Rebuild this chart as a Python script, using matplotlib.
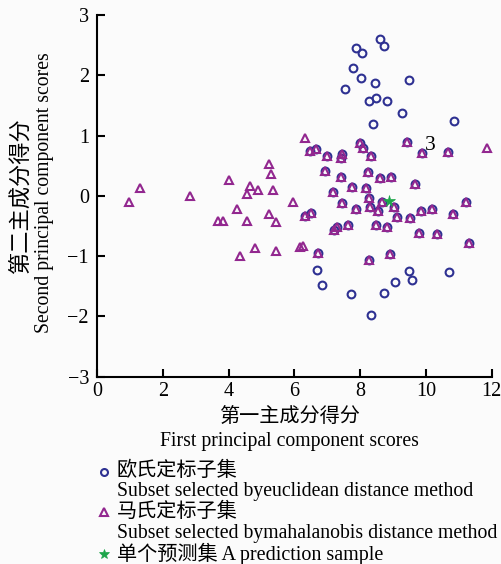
import numpy as np
import matplotlib
matplotlib.use("Agg")
import matplotlib.pyplot as plt
from matplotlib.lines import Line2D

# ---- data ----
# samples selected by both methods
shared_x = [6.47, 6.66, 6.99, 7.44, 7.42, 7.98, 8.08, 8.34, 9.42, 9.88, 10.67,
            6.93, 7.40, 8.25, 8.60, 8.94, 9.67, 7.76, 8.19, 7.18,
            6.31, 6.50, 7.46, 7.87, 8.26, 8.31, 8.53, 8.66, 9.04, 9.12, 9.51, 9.85, 10.18, 10.83, 11.23,
            7.21, 7.28, 7.64, 8.48, 8.80, 9.79, 10.33, 11.31,
            6.70, 8.27, 8.91]
shared_y = [0.75, 0.77, 0.655, 0.69, 0.63, 0.87, 0.79, 0.655, 0.90, 0.71, 0.73,
            0.41, 0.31, 0.40, 0.30, 0.32, 0.20, 0.14, 0.135, 0.07,
            -0.33, -0.28, -0.12, -0.21, -0.04, -0.185, -0.25, -0.11, -0.19, -0.35, -0.36, -0.25, -0.22, -0.30, -0.11,
            -0.56, -0.51, -0.48, -0.49, -0.52, -0.61, -0.64, -0.78,
            -0.94, -1.07, -0.96]
# samples selected only by euclidean distance
euclid_only_x = [8.61, 8.71, 7.88, 8.06, 7.78, 8.02, 8.46, 9.47, 7.55, 8.27, 8.49, 8.82,
                 9.28, 8.38, 10.85, 6.68, 6.84, 7.71, 8.32, 8.73, 9.07, 9.49, 9.58, 10.69]
euclid_only_y = [2.60, 2.48, 2.45, 2.37, 2.12, 1.95, 1.88, 1.92, 1.77, 1.57, 1.63, 1.57,
                 1.38, 1.19, 1.24, -1.23, -1.48, -1.62, -1.98, -1.61, -1.43, -1.25, -1.39, -1.27]
# samples selected only by mahalanobis distance
mahal_only_x = [6.31, 11.86, 5.23, 5.27, 4.00, 1.31, 0.965, 2.82, 4.66, 4.88, 4.54, 5.36,
                4.24, 5.21, 4.56, 5.43, 3.67, 3.83, 5.96, 4.81, 4.35, 5.44, 6.17, 6.25]
mahal_only_y = [0.965, 0.80, 0.53, 0.36, 0.27, 0.135, -0.096, 0.0, 0.16, 0.10, 0.025, 0.10,
                -0.21, -0.30, -0.41, -0.43, -0.41, -0.41, -0.11, -0.86, -1.00, -0.915, -0.85, -0.84]

euclid_x = euclid_only_x + shared_x
euclid_y = euclid_only_y + shared_y
mahal_x = shared_x + mahal_only_x
mahal_y = shared_y + mahal_only_y

pred_x = [8.88]
pred_y = [-0.08]

note_text = "3"
note_x, note_y = 10.14, 0.84

x_ticks = [0, 2, 4, 6, 8, 10, 12]
y_ticks = [-3, -2, -1, 0, 1, 2, 3]

xlabel_cn = "第一主成分得分"
xlabel_en = "First principal component scores"
ylabel_cn = "第二主成分得分"
ylabel_en = "Second principal component scores"
legend_cn = ["欧氏定标子集", "马氏定标子集", "单个预测集 A prediction sample"]
legend_en = ["Subset selected byeuclidean distance method",
             "Subset selected bymahalanobis distance method"]

# ---- style ----
FAM = ["Liberation Serif", "Noto Sans CJK SC", "DejaVu Sans"]
plt.rcParams["font.family"] = FAM
C_BLUE = "#2E3192"
C_PURP = "#92278F"
C_GREEN = "#1DA64A"
BG = "#fbfbfb"
FS_CN = 14.5
FS_EN = 14.2

W, H = 501, 564
fig = plt.figure(figsize=(W / 100, H / 100), dpi=100, facecolor=BG)
ax = fig.add_axes([97.3 / W, 1 - 376.7 / H, (491.7 - 97.3) / W, (376.7 - 15) / H])
ax.set_facecolor(BG)

ax.plot(euclid_x, euclid_y, linestyle="none", marker="o", ms=5.6, mfc="none",
        mec=C_BLUE, mew=1.5, zorder=3)
ax.plot(mahal_x, mahal_y, linestyle="none", marker="^", ms=5.4, mfc="none",
        mec=C_PURP, mew=1.5, zorder=4)
ax.plot(pred_x, pred_y, linestyle="none", marker="*", ms=8.5, mfc=C_GREEN,
        mec=C_GREEN, mew=0.5, zorder=5)
ax.text(note_x, note_y, note_text, fontsize=15.5, ha="center", va="center", zorder=6)

ax.set_xlim(0, 12)
ax.set_ylim(-3, 3)
ax.set_xticks(x_ticks)
ax.set_yticks(y_ticks)
for s in ["top", "right"]:
    ax.spines[s].set_visible(False)
for s in ["left", "bottom"]:
    ax.spines[s].set_linewidth(1.5)
ax.tick_params(direction="in", length=6, width=1.5, labelsize=14.5, pad=6)
ax.tick_params(axis="x", pad=4)

# axis labels
def fx(px):
    return px / W

def fy(py):
    return 1 - py / H

fig.text(fx(289.5), fy(418), xlabel_cn, fontsize=FS_CN, ha="center", va="center")
fig.text(fx(289), fy(441.5), xlabel_en, fontsize=FS_EN, ha="center", va="center")
fig.text(fx(21), fy(196), ylabel_cn, fontsize=16, ha="center", va="center", rotation=90)
fig.text(fx(45), fy(193), ylabel_en, fontsize=FS_EN, ha="center", va="center", rotation=90)

# legend (manual layout)
mk_x = fx(104)
tx_x = fx(117)
rows = [471.7, 491.7, 512.3, 533.3, 554.0]
fig.add_artist(Line2D([mk_x], [fy(rows[0])], transform=fig.transFigure, marker="o",
                      ms=5.0, mfc="none", mec=C_BLUE, mew=1.5, linestyle="none"))
fig.add_artist(Line2D([mk_x], [fy(rows[2])], transform=fig.transFigure, marker="^",
                      ms=5.2, mfc="none", mec=C_PURP, mew=1.5, linestyle="none"))
fig.add_artist(Line2D([mk_x], [fy(rows[4])], transform=fig.transFigure, marker="*",
                      ms=7.5, mfc=C_GREEN, mec=C_GREEN, mew=0.5, linestyle="none"))
fig.text(tx_x, fy(rows[0]), legend_cn[0], fontsize=FS_CN, ha="left", va="center")
fig.text(tx_x, fy(rows[1]), legend_en[0], fontsize=FS_EN, ha="left", va="center")
fig.text(tx_x, fy(rows[2]), legend_cn[1], fontsize=FS_CN, ha="left", va="center")
fig.text(tx_x, fy(rows[3]), legend_en[1], fontsize=FS_EN, ha="left", va="center")
fig.text(tx_x, fy(rows[4]), legend_cn[2], fontsize=FS_CN, ha="left", va="center")

fig.savefig("out.png", dpi=100, facecolor=BG)
